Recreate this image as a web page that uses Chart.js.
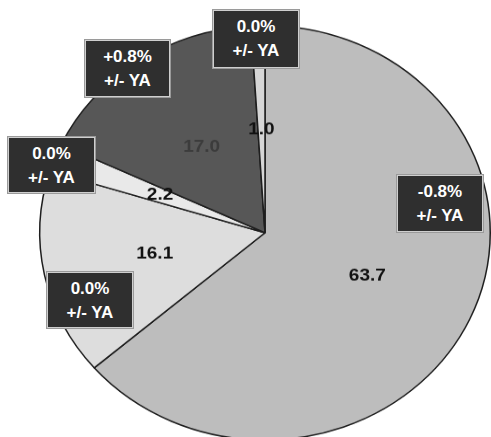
<!DOCTYPE html>
<html>
<head>
<meta charset="utf-8">
<script src="https://cdn.jsdelivr.net/npm/chart.js@4"></script>
<style>
  html, body { margin: 0; padding: 0; background: #ffffff; overflow: hidden; width: 491px; height: 437px; }
  #wrap { position: absolute; left: 0; top: 0; width: 491px; height: 480px; transform: scaleY(0.92); transform-origin: 0 0; }
  .box { position: absolute; background: #2f2f2f; border: 1px solid #cfcfcf; outline: 1px solid #9a9a9a;
         color: #ffffff; font-family: "Liberation Sans", Arial, sans-serif; font-weight: bold;
         font-size: 17px; line-height: 24px; text-align: center; box-sizing: border-box; padding-top: 4px; }
</style>
</head>
<body>
<div id="wrap"><canvas id="c" width="491" height="480"></canvas></div>
<script>
// Data
const categories = ["A", "B", "C", "D", "E"];
const shares = [63.7, 16.1, 2.2, 17.0, 1.0];
const changeLabels = ["-0.8%", "0.0%", "0.0%", "+0.8%", "0.0%"];
const changeSuffix = "+/- YA";

// Styles (kept separate from data)
const sliceColors = ["#bdbdbd", "#dddddd", "#e9e9e9", "#575757", "#d6d6d6"];
const valueColors = ["#111111", "#111111", "#111111", "#3c3c3c", "#111111"];
// annotation box layout: [left, top, width, height] in page pixels
const boxLayout = [[397, 175, 86, 57], [47, 272, 86, 56], [8, 137, 87, 56], [85, 40, 85, 57], [213, 10, 86, 58]];

const valueLabels = {
  id: "valueLabels",
  afterDatasetsDraw(chart) {
    const ctx = chart.ctx;
    const meta = chart.getDatasetMeta(0);
    ctx.save();
    ctx.font = "bold 19px 'Liberation Sans', Arial, sans-serif";
    ctx.textAlign = "center";
    ctx.textBaseline = "middle";
    meta.data.forEach((el, i) => {
      const p = el.tooltipPosition();
      ctx.fillStyle = valueColors[i];
      ctx.fillText(shares[i].toFixed(1), p.x, p.y);
    });
    ctx.restore();
  }
};

new Chart(document.getElementById("c"), {
  type: "pie",
  data: {
    labels: categories,
    datasets: [{
      data: shares,
      backgroundColor: sliceColors,
      borderColor: "#1e1e1e",
      borderWidth: 1.5
    }]
  },
  options: {
    responsive: false,
    animation: false,
    events: [],
    devicePixelRatio: 1,
    layout: { padding: { left: 39, right: 0, top: 27, bottom: 1 } },
    plugins: { legend: { display: false }, tooltip: { enabled: false } }
  },
  plugins: [valueLabels]
});

// Change-vs-year-ago annotation boxes
boxLayout.forEach((b, i) => {
  const d = document.createElement("div");
  d.className = "box";
  d.style.left = b[0] + "px";
  d.style.top = b[1] + "px";
  d.style.width = b[2] + "px";
  d.style.height = b[3] + "px";
  d.innerHTML = changeLabels[i] + "<br>" + changeSuffix;
  document.body.appendChild(d);
});
</script>
</body>
</html>
